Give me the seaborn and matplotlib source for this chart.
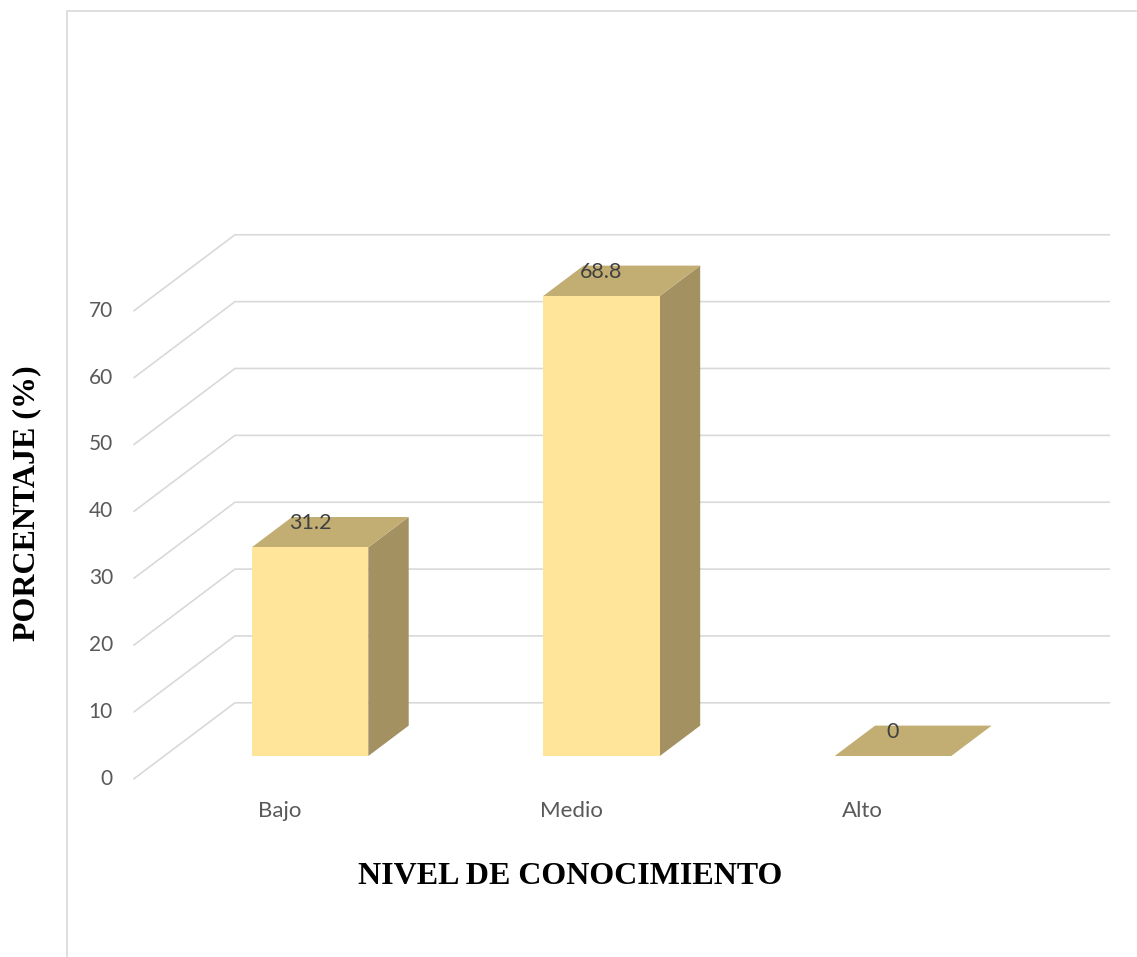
import matplotlib
matplotlib.use("Agg")
import matplotlib.pyplot as plt
from matplotlib.patches import Polygon
from matplotlib.lines import Line2D
import seaborn as sns

# ---- data -------------------------------------------------------------
categorias = ["Bajo", "Medio", "Alto"]
porcentajes = [31.2, 68.8, 0]
ticks_y = [0, 10, 20, 30, 40, 50, 60, 70]
titulo_x = "NIVEL DE CONOCIMIENTO"
titulo_y = "PORCENTAJE (%)"

# ---- style ------------------------------------------------------------
COL_FRONT = "#FEE599"
COL_TOP = "#C2AE72"
COL_SIDE = "#A39162"
COL_GRID = "#D9D9D9"
COL_TEXT = "#595959"
COL_VALUE = "#404040"

W, H, DPI = 1137, 957, 100
sns.set_theme(style="white")
plt.rcParams["font.family"] = ["Lato", "DejaVu Sans"]

fig = plt.figure(figsize=(W / DPI, H / DPI), dpi=DPI)
ax = fig.add_axes([0, 0, 1, 1])

# layout of the bar plane (pixels) and the pseudo-3D floor depth
x0_px, slot_px = 310.0, 291.5
y0_px, unit_px = 756.0, 6.686
DX = 101 / slot_px      # full floor depth, horizontal (category units)
DY = 76 / unit_px       # full floor depth, vertical (value units)
F_FRONT, F_BACK, F_BAR = 0.3, 0.7, 0.4

# ---- front faces of the bars -----------------------------------------
sns.barplot(x=categorias, y=porcentajes, color=COL_FRONT, saturation=1,
            width=0.4, ax=ax, zorder=3, linewidth=0)

ax.set_xlim(-x0_px / slot_px, (W - x0_px) / slot_px)
ax.set_ylim(-(H - y0_px) / unit_px, y0_px / unit_px)
ax.set_axis_off()

# ---- back wall and side wall gridlines --------------------------------
left, right = -0.5, len(categorias) - 0.5
for v in ticks_y:
    fx, fy = left - F_FRONT * DX, v - F_FRONT * DY
    bx, by = left + F_BACK * DX, v + F_BACK * DY
    ax.plot([fx, bx, right + F_BACK * DX], [fy, by, by], color=COL_GRID,
            lw=1.2, zorder=0.5, solid_joinstyle="miter")
    ax.text(fx - 21 / slot_px, fy, str(v), ha="right", va="center",
            fontsize=15, color=COL_TEXT)

# ---- top and side faces + value labels --------------------------------
ddx, ddy = F_BAR * DX, F_BAR * DY
for patch, val in zip(ax.patches, porcentajes):
    x1 = patch.get_x()
    x2 = x1 + patch.get_width()
    h = patch.get_height()
    side = Polygon([(x2, 0), (x2, h), (x2 + ddx, h + ddy), (x2 + ddx, ddy)],
                   closed=True, facecolor=COL_SIDE, edgecolor="none", zorder=2.9)
    top = Polygon([(x1, h), (x2, h), (x2 + ddx, h + ddy), (x1 + ddx, h + ddy)],
                  closed=True, facecolor=COL_TOP, edgecolor="none", zorder=2.9)
    ax.add_patch(side)
    ax.add_patch(top)
    ax.text((x1 + x2) / 2, h + 0.32 * DY, f"{val:g}", ha="center", va="center",
            fontsize=15.5, color=COL_VALUE, zorder=4)

# ---- category labels on the front edge of the floor --------------------
for i, cat in enumerate(categorias):
    ax.text(i - F_FRONT * DX, -F_FRONT * DY - 32 / unit_px, cat,
            ha="center", va="center", fontsize=16, color=COL_TEXT)

# ---- axis titles --------------------------------------------------------
fig.text(570 / W, 1 - 876 / H, titulo_x, ha="center", va="center",
         family="Liberation Serif", weight="bold", fontsize=23, color="black")
fig.text(27 / W, 1 - 503 / H, titulo_y, ha="center", va="center", rotation=90,
         family="Liberation Serif", weight="bold", fontsize=23, color="black")

# ---- chart area border ----------------------------------------------------
fig.add_artist(Line2D([67 / W, 67 / W, 1], [0, 1 - 11 / H, 1 - 11 / H],
                      transform=fig.transFigure, color=COL_GRID, lw=1.2))

fig.savefig("out.png", dpi=DPI)
